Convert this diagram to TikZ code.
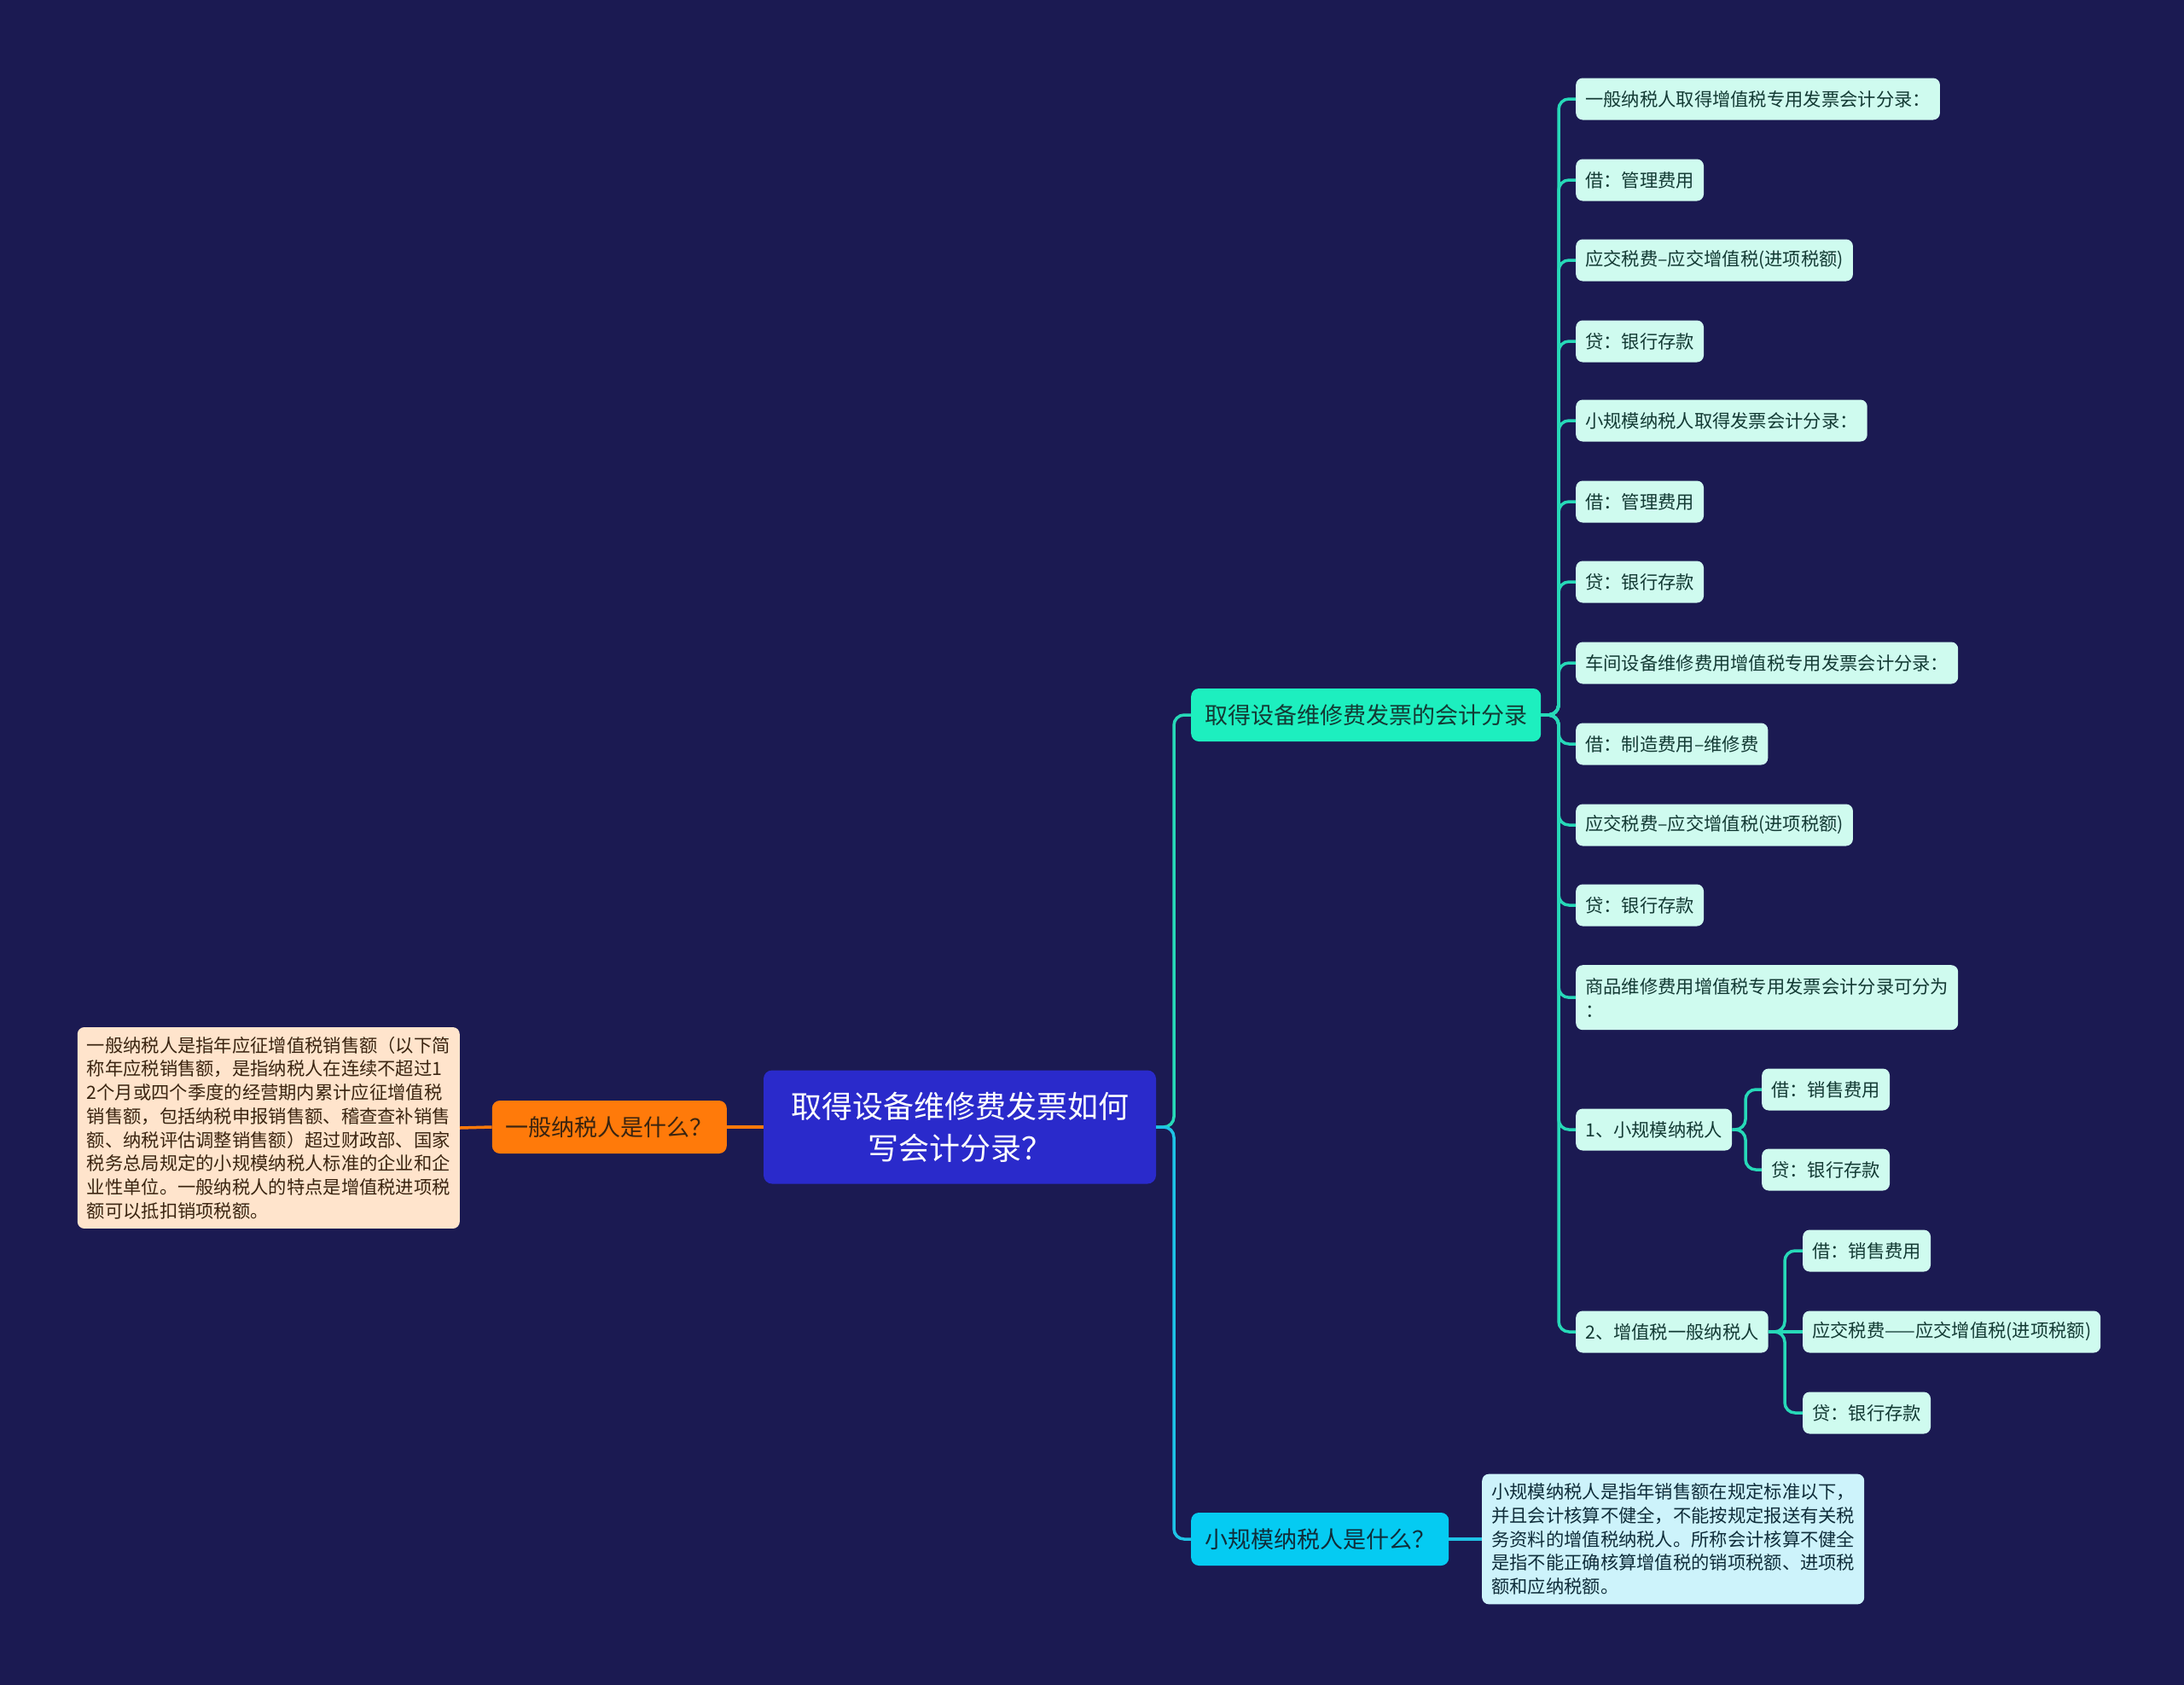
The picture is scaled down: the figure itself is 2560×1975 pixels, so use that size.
\documentclass[tikz,border=0pt]{standalone}
\usepackage{fontspec}
\setmainfont{Noto Sans CJK SC}
\definecolor{bg}{HTML}{1B1A52}
\definecolor{rootc}{HTML}{2A2ACB}
\definecolor{orangec}{HTML}{FF7A0A}
\definecolor{peach}{HTML}{FFE4CC}
\definecolor{greenc}{HTML}{1DEFBF}
\definecolor{leafc}{HTML}{CFFBEF}
\definecolor{bluec}{HTML}{05CBF2}
\definecolor{lblue}{HTML}{CDF3FB}
\definecolor{tealline}{HTML}{27D9B8}
\definecolor{blueline}{HTML}{1EC3E6}
\definecolor{txt}{HTML}{133A34}
\definecolor{browntxt}{HTML}{3A2410}
\definecolor{bluetxt}{HTML}{0F2D3A}
\tikzset{
  leaf/.style={fill=leafc, rounded corners=8pt, text=txt, font=\fontsize{21.3}{28}\selectfont,
    minimum height=49pt, inner xsep=11pt, inner ysep=4pt, anchor=west, align=left},
  mainbr/.style={rounded corners=9pt, font=\fontsize{27}{32}\selectfont, minimum height=62pt,
    inner xsep=16pt, inner ysep=4pt},
  textbox/.style={rounded corners=8pt, font=\fontsize{21.3}{27.7}\selectfont, inner xsep=11pt,
    inner ysep=11pt, align=left},
  tl/.style={draw=tealline, line width=3.5pt, rounded corners=12pt},
  bl/.style={draw=blueline, line width=3.5pt, rounded corners=12pt},
  ol/.style={draw=orangec, line width=3.5pt},
}
\begin{document}
\begin{tikzpicture}[x=1pt,y=-1pt]
\useasboundingbox[fill=bg] (0,0) rectangle (2560,1975);

% root
\node[fill=rootc, rounded corners=10pt, text=white, font=\fontsize{36}{49}\selectfont,
  align=center, minimum width=460pt, minimum height=133pt, inner sep=4pt] (root) at (1125,1321)
  {取得设备维修费发票如何\\写会计分录？};

% left branch
\node[mainbr, fill=orangec, text=browntxt, anchor=east] (ob) at (852,1321) {一般纳税人是什么？};
\node[textbox, fill=peach, text=browntxt, anchor=east] (ot) at (539,1322)
  {一般纳税人是指年应征增值税销售额（以下简\\
   称年应税销售额，是指纳税人在连续不超过1\\
   2个月或四个季度的经营期内累计应征增值税\\
   销售额，包括纳税申报销售额、稽查查补销售\\
   额、纳税评估调整销售额）超过财政部、国家\\
   税务总局规定的小规模纳税人标准的企业和企\\
   业性单位。一般纳税人的特点是增值税进项税\\
   额可以抵扣销项税额。};
\draw[ol] (root.west) -- (ob.east);
\draw[ol] (ob.west) -- (ot.east);

% right main branches
\node[mainbr, fill=greenc, text=txt, anchor=west] (gb) at (1396,838) {取得设备维修费发票的会计分录};
\node[mainbr, fill=bluec, text=bluetxt, anchor=west] (bb) at (1396,1804) {小规模纳税人是什么？};
\node[textbox, fill=lblue, text=bluetxt, anchor=west] (bt) at (1737,1804)
  {小规模纳税人是指年销售额在规定标准以下，\\
   并且会计核算不健全，不能按规定报送有关税\\
   务资料的增值税纳税人。所称会计核算不健全\\
   是指不能正确核算增值税的销项税额、进项税\\
   额和应纳税额。};

\coordinate (rs) at (1376,1321);
\draw[tl] (root.east) -- (rs) |- (gb.west);
\draw[bl] (root.east) -- (rs) |- (bb.west);
\draw[bl] (bb.east) -- (bt.west);

% leaves of green branch
\node[leaf] (l1) at (1847,116) {一般纳税人取得增值税专用发票会计分录：};
\node[leaf] (l2) at (1847,211) {借：管理费用};
\node[leaf] (l3) at (1847,305) {应交税费–应交增值税(进项税额)};
\node[leaf] (l4) at (1847,400) {贷：银行存款};
\node[leaf] (l5) at (1847,493) {小规模纳税人取得发票会计分录：};
\node[leaf] (l6) at (1847,588) {借：管理费用};
\node[leaf] (l7) at (1847,682) {贷：银行存款};
\node[leaf] (l8) at (1847,777) {车间设备维修费用增值税专用发票会计分录：};
\node[leaf] (l9) at (1847,872) {借：制造费用–维修费};
\node[leaf] (l10) at (1847,967) {应交税费–应交增值税(进项税额)};
\node[leaf] (l11) at (1847,1061) {贷：银行存款};
\node[leaf, minimum height=76pt, anchor=north west, inner ysep=10pt, text depth=0pt] (l12) at (1847,1131)
  {商品维修费用增值税专用发票会计分录可分为\\：};
\node[leaf] (l13) at (1847,1324) {1、小规模纳税人};
\node[leaf] (l14) at (1847,1561) {2、增值税一般纳税人};

\coordinate (gs) at (1827,838);
\foreach \n in {l1,l2,l3,l4,l5,l6,l7,l8,l9,l10,l11,l12,l13,l14}
  \draw[tl] (gb.east) -- (gs) |- (\n.west);

% sub leaves
\node[leaf] (a1) at (2065,1277) {借：销售费用};
\node[leaf] (a2) at (2065,1371) {贷：银行存款};
\coordinate (as) at (2046,1324);
\draw[tl] (l13.east) -- (as) |- (a1.west);
\draw[tl] (l13.east) -- (as) |- (a2.west);

\node[leaf] (b1) at (2113,1466) {借：销售费用};
\node[leaf] (b2) at (2113,1561) {应交税费——应交增值税(进项税额)};
\node[leaf] (b3) at (2113,1656) {贷：银行存款};
\coordinate (bs) at (2092,1561);
\draw[tl] (l14.east) -- (bs) |- (b1.west);
\draw[tl] (l14.east) -- (b2.west);
\draw[tl] (l14.east) -- (bs) |- (b3.west);
\end{tikzpicture}
\end{document}
